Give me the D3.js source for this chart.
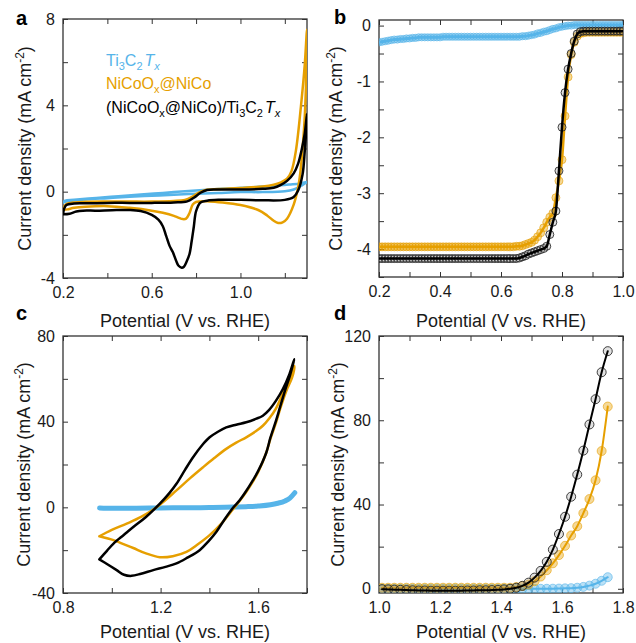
<!DOCTYPE html>
<html>
<head>
<meta charset="utf-8">
<script src="https://cdn.jsdelivr.net/npm/d3@7"></script>
<style>
  body { margin: 0; background: #fff; }
  svg { display: block; font-family: "Liberation Sans", Arial, sans-serif; }
</style>
</head>
<body>
<svg id="fig" width="636" height="643"></svg>
<script>
// ---- panel a: CV, 0.2-1.3 V (closed loops: forward then reverse) ----
var cvA_ti = [[0.2,-0.5],[0.21,-0.42],[0.25,-0.38],[0.35,-0.29],[0.45,-0.21],[0.55,-0.13],[0.65,-0.06],[0.75,0.02],[0.85,0.09],[0.95,0.15],[1.05,0.21],[1.15,0.27],[1.22,0.33],[1.27,0.38],[1.3,0.45],
  [1.29,0.38],[1.27,0.25],[1.24,0.1],[1.2,0.02],[1.1,-0.02],[1.0,-0.02],[0.9,-0.06],[0.8,-0.1],[0.7,-0.14],[0.6,-0.19],[0.5,-0.24],[0.4,-0.3],[0.3,-0.36],[0.22,-0.45],[0.2,-0.5]];
var cvA_nico = [[0.2,-0.85],[0.205,-0.7],[0.215,-0.58],[0.25,-0.5],[0.3,-0.47],[0.4,-0.46],[0.5,-0.46],[0.6,-0.46],[0.7,-0.43],[0.75,-0.38],[0.78,-0.25],[0.81,-0.05],[0.84,0.07],[0.9,0.12],[1.0,0.17],[1.1,0.24],[1.15,0.32],[1.18,0.42],[1.21,0.6],[1.23,0.95],[1.25,1.9],[1.275,4.2],[1.29,5.9],[1.3,7.5],
  [1.297,5.5],[1.29,3.5],[1.28,2.0],[1.27,0.9],[1.26,0.2],[1.24,-0.6],[1.21,-1.25],[1.19,-1.42],[1.17,-1.45],[1.15,-1.35],[1.12,-1.1],[1.08,-0.85],[1.0,-0.62],[0.92,-0.5],[0.86,-0.45],[0.8,-0.48],[0.785,-0.6],[0.77,-1.0],[0.755,-1.25],[0.74,-1.27],[0.72,-1.2],[0.7,-1.12],[0.65,-0.98],[0.6,-0.88],[0.5,-0.75],[0.4,-0.67],[0.3,-0.7],[0.25,-0.75],[0.22,-0.82],[0.2,-0.85]];
var cvA_hyb = [[0.2,-1.05],[0.205,-0.8],[0.215,-0.62],[0.25,-0.55],[0.3,-0.54],[0.4,-0.52],[0.5,-0.52],[0.6,-0.52],[0.7,-0.5],[0.76,-0.45],[0.79,-0.28],[0.82,-0.05],[0.85,0.08],[0.9,0.1],[1.0,0.1],[1.1,0.13],[1.15,0.18],[1.18,0.3],[1.21,0.5],[1.24,0.85],[1.26,1.3],[1.275,1.9],[1.29,2.7],[1.3,3.6],
  [1.295,2.6],[1.29,1.9],[1.28,0.8],[1.26,0.05],[1.24,-0.25],[1.2,-0.38],[1.1,-0.4],[1.0,-0.38],[0.9,-0.38],[0.85,-0.42],[0.82,-0.5],[0.8,-0.9],[0.79,-1.6],[0.78,-2.3],[0.77,-2.9],[0.757,-3.25],[0.745,-3.48],[0.735,-3.52],[0.72,-3.42],[0.71,-3.2],[0.695,-2.8],[0.68,-2.5],[0.665,-2.05],[0.65,-1.6],[0.63,-1.3],[0.6,-1.08],[0.55,-0.9],[0.5,-0.85],[0.42,-0.86],[0.35,-0.88],[0.29,-0.88],[0.26,-0.92],[0.23,-1.02],[0.2,-1.05]];

// ---- panel b: LSV (ORR), 0.20-1.00 V every 10 mV ----
var potB = [0.20,0.21,0.22,0.23,0.24,0.25,0.26,0.27,0.28,0.29,
  0.30,0.31,0.32,0.33,0.34,0.35,0.36,0.37,0.38,0.39,
  0.40,0.41,0.42,0.43,0.44,0.45,0.46,0.47,0.48,0.49,
  0.50,0.51,0.52,0.53,0.54,0.55,0.56,0.57,0.58,0.59,
  0.60,0.61,0.62,0.63,0.64,0.65,0.66,0.67,0.68,0.69,
  0.70,0.71,0.72,0.73,0.74,0.75,0.76,0.77,0.78,0.79,
  0.80,0.81,0.82,0.83,0.84,0.85,0.86,0.87,0.88,0.89,
  0.90,0.91,0.92,0.93,0.94,0.95,0.96,0.97,0.98,0.99,1.00];
var lsvB_ti = [-0.30,-0.29,-0.28,-0.27,-0.26,-0.25,-0.25,-0.24,-0.24,-0.23,
  -0.23,-0.22,-0.22,-0.21,-0.21,-0.21,-0.21,-0.21,-0.21,-0.21,
  -0.21,-0.20,-0.20,-0.20,-0.20,-0.20,-0.20,-0.20,-0.20,-0.20,
  -0.20,-0.20,-0.20,-0.20,-0.20,-0.20,-0.20,-0.20,-0.20,-0.20,
  -0.20,-0.20,-0.20,-0.20,-0.20,-0.20,-0.20,-0.19,-0.19,-0.18,
  -0.17,-0.16,-0.14,-0.13,-0.11,-0.10,-0.08,-0.06,-0.05,-0.03,
  -0.02,-0.01,0.00,0.00,0.01,0.01,0.01,0.01,0.01,0.01,
  0.01,0.01,0.01,0.01,0.01,0.01,0.01,0.01,0.01,0.01,0.01];
var lsvB_nico = [-3.96,-3.96,-3.96,-3.96,-3.96,-3.96,-3.96,-3.96,-3.96,-3.96,
  -3.96,-3.96,-3.96,-3.96,-3.96,-3.96,-3.96,-3.96,-3.96,-3.96,
  -3.96,-3.96,-3.96,-3.96,-3.96,-3.96,-3.96,-3.96,-3.96,-3.96,
  -3.96,-3.96,-3.96,-3.96,-3.96,-3.96,-3.96,-3.96,-3.96,-3.96,
  -3.96,-3.96,-3.96,-3.96,-3.96,-3.95,-3.95,-3.94,-3.92,-3.90,
  -3.88,-3.84,-3.78,-3.71,-3.62,-3.52,-3.43,-3.36,-3.08,-2.78,
  -2.40,-1.62,-0.92,-0.52,-0.30,-0.19,-0.14,-0.13,-0.12,-0.12,
  -0.12,-0.12,-0.12,-0.12,-0.12,-0.12,-0.12,-0.12,-0.12,-0.12,-0.12];
var lsvB_hyb = [-4.17,-4.17,-4.17,-4.17,-4.17,-4.17,-4.17,-4.17,-4.17,-4.17,
  -4.17,-4.17,-4.17,-4.17,-4.17,-4.17,-4.17,-4.17,-4.17,-4.17,
  -4.17,-4.17,-4.17,-4.17,-4.17,-4.17,-4.17,-4.17,-4.17,-4.17,
  -4.17,-4.17,-4.17,-4.17,-4.17,-4.17,-4.17,-4.17,-4.17,-4.17,
  -4.17,-4.17,-4.17,-4.17,-4.17,-4.17,-4.16,-4.14,-4.12,-4.09,
  -4.07,-4.05,-4.03,-4.01,-3.99,-3.95,-3.74,-3.52,-3.32,-2.60,
  -1.82,-1.20,-0.78,-0.50,-0.28,-0.15,-0.11,-0.10,-0.10,-0.10,
  -0.10,-0.10,-0.10,-0.10,-0.10,-0.10,-0.10,-0.10,-0.10,-0.10,-0.10];

// ---- panel c: CV, 0.95-1.75 V ----
var cvC_ti = [[0.95,-0.3],[1.0,-0.45],[1.1,-0.4],[1.2,-0.3],[1.3,-0.2],[1.4,-0.1],[1.5,0.1],[1.55,0.3],[1.6,0.6],[1.65,1.2],[1.68,1.9],[1.71,3.0],[1.73,4.3],[1.75,6.8]];
var cvC_nico = [[0.949,-13.5],[1.0,-10.5],[1.061,-7.6],[1.12,-4.5],[1.184,0.1],[1.265,7.9],[1.32,13.5],[1.374,18.7],[1.42,23.0],[1.469,27.3],[1.51,30.2],[1.551,32.7],[1.59,35.5],[1.619,38.1],[1.645,41.5],[1.672,46],[1.7,53],[1.728,60.6],[1.748,66],
  [1.74,61],[1.714,54],[1.69,46],[1.673,39.5],[1.65,32],[1.633,25.5],[1.6,16.5],[1.578,12],[1.55,7],[1.524,3],[1.496,-1],[1.45,-7.5],[1.401,-13],[1.35,-17.5],[1.306,-20.8],[1.25,-22.8],[1.197,-23.3],[1.14,-21.5],[1.088,-19],[1.04,-16.8],[1.007,-15.3],[0.949,-13.5]];
var cvC_hyb = [[0.949,-24.3],[0.98,-20.3],[1.007,-16.9],[1.05,-12.8],[1.088,-9.2],[1.14,-4.5],[1.197,1.7],[1.235,6.5],[1.265,11],[1.3,17.5],[1.333,23.4],[1.37,29],[1.401,32.7],[1.435,35.3],[1.469,37.3],[1.51,38.6],[1.551,39.7],[1.59,41.3],[1.619,42.8],[1.645,45.5],[1.673,49.8],[1.7,55],[1.728,62.2],[1.748,69.2],
  [1.73,61.5],[1.714,56],[1.69,47],[1.673,40.5],[1.65,32.5],[1.633,25.5],[1.6,17],[1.578,12.6],[1.55,7.5],[1.524,3.3],[1.496,-0.3],[1.46,-6],[1.428,-11.5],[1.395,-16],[1.36,-20],[1.31,-23.5],[1.265,-26.2],[1.22,-27.8],[1.17,-29.3],[1.12,-31],[1.081,-32],[1.05,-31.5],[1.02,-29.3],[0.985,-26.8],[0.949,-24.3]];

// ---- panel d: LSV (OER), 1.01-1.75 V every 20 mV ----
var potD = [1.01,1.03,1.05,1.07,1.09,1.11,1.13,1.15,1.17,1.19,
  1.21,1.23,1.25,1.27,1.29,1.31,1.33,1.35,1.37,1.39,
  1.41,1.43,1.45,1.47,1.49,1.51,1.53,1.55,1.57,1.59,
  1.61,1.63,1.65,1.67,1.69,1.71,1.73,1.75];
var lsvD_ti = [0,0,0,0,0,0,0,0,0,0,
  0,0,0,0,0,0,0,0,0,0,
  0,0,0,0,0,0,0,0,0.05,0.1,
  0.2,0.3,0.5,0.9,1.5,2.4,3.8,5.5];
var lsvD_nico = [0.5,0.5,0.5,0.5,0.5,0.5,0.5,0.5,0.5,0.5,
  0.5,0.5,0.5,0.5,0.5,0.5,0.5,0.5,0.5,0.5,
  0.5,0.5,0.8,1.3,2.0,3.6,5.8,8.8,12.1,16.0,
  20.4,25.3,29.7,35.9,42.6,51.5,65.4,86.5];
var lsvD_hyb = [-0.2,-0.3,-0.4,-0.5,-0.6,-0.7,-0.8,-0.8,-0.9,-0.9,
  -0.9,-0.9,-0.9,-0.9,-0.8,-0.8,-0.7,-0.7,-0.6,-0.5,
  -0.3,0.0,0.5,1.4,2.9,5.3,8.5,12.8,18.6,26.0,
  34.2,43.7,54.2,65.6,78.0,90.0,102.8,112.8];

// ticks
var aXTicks = [0.2,0.4,0.6,0.8,1.0,1.2], aXLabels = [0.2,0.6,1.0];
var aYTicks = [-4,-2,0,2,4,6,8], aYLabels = [-4,0,4,8];
var bXTicks = [0.2,0.3,0.4,0.5,0.6,0.7,0.8,0.9,1.0], bXLabels = [0.2,0.4,0.6,0.8,1.0];
var bYTicks = [-4.5,-4,-3.5,-3,-2.5,-2,-1.5,-1,-0.5,0], bYLabels = [-4,-3,-2,-1,0];
var cXTicks = [0.8,1.0,1.2,1.4,1.6,1.8], cXLabels = [0.8,1.2,1.6];
var cYTicks = [-40,-20,0,20,40,60,80], cYLabels = [-40,0,40,80];
var dXTicks = [1.0,1.1,1.2,1.3,1.4,1.5,1.6,1.7,1.8], dXLabels = [1.0,1.2,1.4,1.6,1.8];
var dYTicks = [0,20,40,60,80,100,120], dYLabels = [0,40,80,120];

var blue = "#56B4E9", orange = "#E69F00", black = "#000000";
var svg = d3.select("#fig");

function has(list, v) { return list.some(function(l){ return Math.abs(l - v) < 1e-9; }); }

function makePanel(p) {
  var x = d3.scaleLinear().domain(p.xd).range([p.left, p.right]);
  var y = d3.scaleLinear().domain(p.yd).range([p.bottom, p.top]);
  var g = svg.append("g");

  svg.append("clipPath").attr("id", "clip" + p.name)
    .append("rect").attr("x", p.left).attr("y", p.top)
    .attr("width", p.right - p.left).attr("height", p.bottom - p.top);

  var fx = function(d){ return has(p.xl, d) ? d3.format(".1f")(d) : ""; };
  var fy = function(d){ return has(p.yl, d) ? String(d) : ""; };

  var axes = [
    [d3.axisBottom(x).tickValues(p.xt).tickFormat(fx).tickPadding(9), "translate(0," + p.bottom + ")"],
    [d3.axisTop(x).tickValues(p.xt).tickFormat(""), "translate(0," + p.top + ")"],
    [d3.axisLeft(y).tickValues(p.yt).tickFormat(fy).tickPadding(8), "translate(" + p.left + ",0)"],
    [d3.axisRight(y).tickValues(p.yt).tickFormat(""), "translate(" + p.right + ",0)"]
  ];
  axes.forEach(function(a){
    var ax = g.append("g").attr("transform", a[1])
      .call(a[0].tickSizeInner(-5).tickSizeOuter(0));
    ax.select(".domain").remove();
    ax.selectAll("line").attr("stroke", "#333").attr("stroke-width", 1);
    ax.selectAll("text").attr("font-size", 16).attr("fill", "#1a1a1a")
      .attr("font-family", "'Liberation Sans', Arial, sans-serif");
  });

  g.append("rect").attr("x", p.left).attr("y", p.top)
    .attr("width", p.right - p.left).attr("height", p.bottom - p.top)
    .attr("fill", "none").attr("stroke", "#333").attr("stroke-width", 1.3);

  // axis titles
  g.append("text").attr("x", (p.left + p.right) / 2).attr("y", p.bottom + p.xto)
    .attr("text-anchor", "middle").attr("font-size", 18).attr("fill", "#1a1a1a")
    .text("Potential (V vs. RHE)");
  var yt = g.append("text")
    .attr("transform", "translate(" + p.ytx + "," + (p.top + p.bottom) / 2 + ") rotate(-90)")
    .attr("text-anchor", "middle").attr("font-size", 18).attr("fill", "#1a1a1a");
  yt.append("tspan").text("Current density (mA cm");
  yt.append("tspan").attr("font-size", 12).attr("dy", -7).text("-2");
  yt.append("tspan").attr("dy", 7).text(")");

  // panel letter
  g.append("text").attr("x", p.lx).attr("y", p.ly)
    .attr("font-size", 20).attr("font-weight", "bold").attr("fill", "#000").text(p.name);

  var plot = g.append("g").attr("clip-path", "url(#clip" + p.name + ")");
  return {x: x, y: y, g: plot, root: g};
}

function pairs(xs, ys) { return xs.map(function(v, i){ return [v, ys[i]]; }); }

function drawLine(P, data, color, width, curve) {
  var line = d3.line().x(function(d){ return P.x(d[0]); }).y(function(d){ return P.y(d[1]); }).curve(curve);
  P.g.append("path").datum(data).attr("d", line)
    .attr("fill", "none").attr("stroke", color).attr("stroke-width", width)
    .attr("stroke-linejoin", "round").attr("stroke-linecap", "round");
}

function drawMarkers(P, data, color, r) {
  var dark = color === black;
  P.g.append("g").selectAll("circle").data(data).enter().append("circle")
    .attr("cx", function(d){ return P.x(d[0]); })
    .attr("cy", function(d){ return P.y(d[1]); })
    .attr("r", r)
    .attr("fill", dark ? "#888" : color).attr("fill-opacity", dark ? 0.25 : 0.4)
    .attr("stroke", dark ? "#222" : color).attr("stroke-opacity", dark ? 0.85 : 0.6)
    .attr("stroke-width", 1);
}

var loopCurve = d3.curveCatmullRom.alpha(0.5);

// panel a
var A = makePanel({name: "a", left: 63, right: 307, top: 19, bottom: 278,
  xd: [0.2, 1.3], yd: [-4, 8], xt: aXTicks, xl: aXLabels, yt: aYTicks, yl: aYLabels,
  ytx: 31, lx: 16, ly: 25, xto: 48.5});
drawLine(A, cvA_ti, blue, 2.5, loopCurve);
drawLine(A, cvA_nico, orange, 2.5, loopCurve);
drawLine(A, cvA_hyb, black, 2.5, loopCurve);

var leg = A.root.append("g").attr("font-size", 16);
function rich(t, parts) {
  parts.forEach(function(q){
    var s = t.append("tspan").text(q.t);
    if (q.sub) s.attr("font-size", 11).attr("dy", 4);
    if (q.up) s.attr("dy", -4);
    if (q.it) s.attr("font-style", "italic");
    if (q.dx) s.attr("dx", q.dx);
  });
}
rich(leg.append("text").attr("x", 106).attr("y", 65.5).attr("fill", blue),
  [{t:"Ti"},{t:"3",sub:1},{t:"C",up:1},{t:"2",sub:1},{t:"T",up:1,it:1,dx:2},{t:"x",sub:1,it:1}]);
rich(leg.append("text").attr("x", 106).attr("y", 89).attr("fill", orange),
  [{t:"NiCoO"},{t:"x",sub:1},{t:"@NiCo",up:1}]);
rich(leg.append("text").attr("x", 106).attr("y", 112.5).attr("fill", "#000"),
  [{t:"(NiCoO"},{t:"x",sub:1},{t:"@NiCo)/Ti",up:1},{t:"3",sub:1},{t:"C",up:1},{t:"2",sub:1},{t:"T",up:1,it:1,dx:2},{t:"x",sub:1,it:1}]);

// panel b
var B = makePanel({name: "b", left: 379, right: 623, top: 20, bottom: 277,
  xd: [0.2, 1.0], yd: [-4.5, 0.1], xt: bXTicks, xl: bXLabels, yt: bYTicks, yl: bYLabels,
  ytx: 342, lx: 334, ly: 24, xto: 49.5});
[[lsvB_ti, blue, 3], [lsvB_nico, orange, 2.5], [lsvB_hyb, black, 2.5]].forEach(function(s){
  var pts = pairs(potB, s[0]);
  drawMarkers(B, pts, s[1], s[1] === blue ? 3.6 : 4);
  drawLine(B, pts, s[1], s[2], d3.curveMonotoneX);
});

// panel c
var C = makePanel({name: "c", left: 63, right: 307, top: 336, bottom: 593,
  xd: [0.8, 1.8], yd: [-40, 80], xt: cXTicks, xl: cXLabels, yt: cYTicks, yl: cYLabels,
  ytx: 30, lx: 16, ly: 320, xto: 45});
drawLine(C, cvC_ti, blue, 5, d3.curveMonotoneX);
drawLine(C, cvC_nico, orange, 2.5, loopCurve);
drawLine(C, cvC_hyb, black, 2.5, loopCurve);

// panel d
var D = makePanel({name: "d", left: 379, right: 623, top: 336, bottom: 593,
  xd: [1.0, 1.8], yd: [-2, 120], xt: dXTicks, xl: dXLabels, yt: dYTicks, yl: dYLabels,
  ytx: 344, lx: 334, ly: 320, xto: 45});
[[lsvD_ti, blue], [lsvD_nico, orange], [lsvD_hyb, black]].forEach(function(s){
  var pts = pairs(potD, s[0]);
  drawMarkers(D, pts, s[1], 4.5);
  drawLine(D, pts, s[1], 2, d3.curveMonotoneX);
});
</script>
</body>
</html>
